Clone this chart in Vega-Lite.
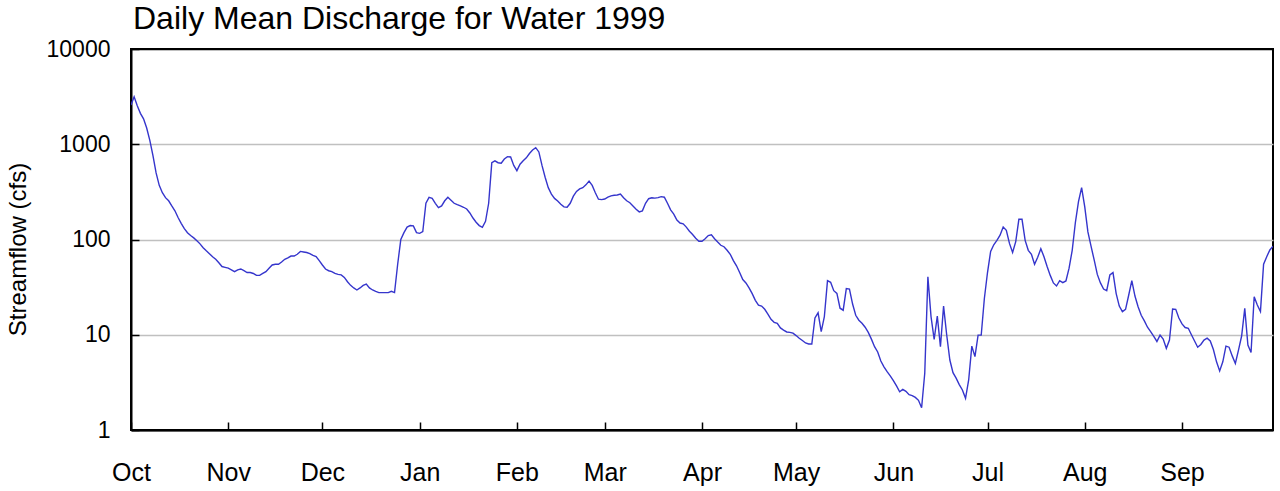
{
  "$schema": "https://vega.github.io/schema/vega-lite/v6.json",
  "width": 1142,
  "height": 381,
  "autosize": {"type": "none"},
  "padding": {"left": 131, "top": 49, "right": 7, "bottom": 61},
  "background": "white",
  "config": {
    "font": "Liberation Sans",
    "view": {"stroke": "black", "strokeWidth": 2}
  },
  "title": {
    "text": "Daily Mean Discharge for Water 1999",
    "anchor": "start",
    "frame": "group",
    "fontSize": 32,
    "fontWeight": "normal",
    "font": "Liberation Sans",
    "color": "black",
    "baseline": "alphabetic",
    "offset": 6,
    "dy": 29,
    "dx": 2
  },
  "data": {
    "values": [
      {"t": "1998-10-01", "q": 2580}, {"t": "1998-10-02", "q": 3150}, {"t": "1998-10-03", "q": 2540}, {"t": "1998-10-04", "q": 2110}, {"t": "1998-10-05", "q": 1850}, {"t": "1998-10-06", "q": 1480}, {"t": "1998-10-07", "q": 1100}, {"t": "1998-10-08", "q": 760}, {"t": "1998-10-09", "q": 500}, {"t": "1998-10-10", "q": 370}, {"t": "1998-10-11", "q": 310}, {"t": "1998-10-12", "q": 275}, {"t": "1998-10-13", "q": 255}, {"t": "1998-10-14", "q": 225}, {"t": "1998-10-15", "q": 200}, {"t": "1998-10-16", "q": 170}, {"t": "1998-10-17", "q": 148}, {"t": "1998-10-18", "q": 130}, {"t": "1998-10-19", "q": 118}, {"t": "1998-10-20", "q": 110}, {"t": "1998-10-21", "q": 104}, {"t": "1998-10-22", "q": 97}, {"t": "1998-10-23", "q": 90}, {"t": "1998-10-24", "q": 82}, {"t": "1998-10-25", "q": 76}, {"t": "1998-10-26", "q": 71}, {"t": "1998-10-27", "q": 66}, {"t": "1998-10-28", "q": 62}, {"t": "1998-10-29", "q": 57}, {"t": "1998-10-30", "q": 52}, {"t": "1998-10-31", "q": 51},
      {"t": "1998-11-01", "q": 50}, {"t": "1998-11-02", "q": 48}, {"t": "1998-11-03", "q": 46}, {"t": "1998-11-04", "q": 48}, {"t": "1998-11-05", "q": 49}, {"t": "1998-11-06", "q": 47}, {"t": "1998-11-07", "q": 45}, {"t": "1998-11-08", "q": 45}, {"t": "1998-11-09", "q": 44}, {"t": "1998-11-10", "q": 42}, {"t": "1998-11-11", "q": 42}, {"t": "1998-11-12", "q": 44}, {"t": "1998-11-13", "q": 46}, {"t": "1998-11-14", "q": 50}, {"t": "1998-11-15", "q": 54}, {"t": "1998-11-16", "q": 55}, {"t": "1998-11-17", "q": 55}, {"t": "1998-11-18", "q": 58}, {"t": "1998-11-19", "q": 62}, {"t": "1998-11-20", "q": 64}, {"t": "1998-11-21", "q": 67}, {"t": "1998-11-22", "q": 67}, {"t": "1998-11-23", "q": 70}, {"t": "1998-11-24", "q": 75}, {"t": "1998-11-25", "q": 74}, {"t": "1998-11-26", "q": 73}, {"t": "1998-11-27", "q": 71}, {"t": "1998-11-28", "q": 68}, {"t": "1998-11-29", "q": 66}, {"t": "1998-11-30", "q": 60},
      {"t": "1998-12-01", "q": 54}, {"t": "1998-12-02", "q": 49}, {"t": "1998-12-03", "q": 47}, {"t": "1998-12-04", "q": 46}, {"t": "1998-12-05", "q": 44}, {"t": "1998-12-06", "q": 43}, {"t": "1998-12-07", "q": 42.5}, {"t": "1998-12-08", "q": 40}, {"t": "1998-12-09", "q": 36}, {"t": "1998-12-10", "q": 33}, {"t": "1998-12-11", "q": 31}, {"t": "1998-12-12", "q": 29.5}, {"t": "1998-12-13", "q": 31}, {"t": "1998-12-14", "q": 33}, {"t": "1998-12-15", "q": 34}, {"t": "1998-12-16", "q": 31}, {"t": "1998-12-17", "q": 29.5}, {"t": "1998-12-18", "q": 28.5}, {"t": "1998-12-19", "q": 27.7}, {"t": "1998-12-20", "q": 27.7}, {"t": "1998-12-21", "q": 27.7}, {"t": "1998-12-22", "q": 27.7}, {"t": "1998-12-23", "q": 28.6}, {"t": "1998-12-24", "q": 27.7}, {"t": "1998-12-25", "q": 55}, {"t": "1998-12-26", "q": 100}, {"t": "1998-12-27", "q": 118}, {"t": "1998-12-28", "q": 135}, {"t": "1998-12-29", "q": 140}, {"t": "1998-12-30", "q": 139}, {"t": "1998-12-31", "q": 118},
      {"t": "1999-01-01", "q": 116}, {"t": "1999-01-02", "q": 121}, {"t": "1999-01-03", "q": 240}, {"t": "1999-01-04", "q": 277}, {"t": "1999-01-05", "q": 270}, {"t": "1999-01-06", "q": 240}, {"t": "1999-01-07", "q": 216}, {"t": "1999-01-08", "q": 225}, {"t": "1999-01-09", "q": 255}, {"t": "1999-01-10", "q": 277}, {"t": "1999-01-11", "q": 258}, {"t": "1999-01-12", "q": 240}, {"t": "1999-01-13", "q": 232}, {"t": "1999-01-14", "q": 225}, {"t": "1999-01-15", "q": 218}, {"t": "1999-01-16", "q": 209}, {"t": "1999-01-17", "q": 190}, {"t": "1999-01-18", "q": 168}, {"t": "1999-01-19", "q": 152}, {"t": "1999-01-20", "q": 140}, {"t": "1999-01-21", "q": 134}, {"t": "1999-01-22", "q": 155}, {"t": "1999-01-23", "q": 240}, {"t": "1999-01-24", "q": 640}, {"t": "1999-01-25", "q": 670}, {"t": "1999-01-26", "q": 640}, {"t": "1999-01-27", "q": 632}, {"t": "1999-01-28", "q": 700}, {"t": "1999-01-29", "q": 741}, {"t": "1999-01-30", "q": 735}, {"t": "1999-01-31", "q": 600},
      {"t": "1999-02-01", "q": 528}, {"t": "1999-02-02", "q": 617}, {"t": "1999-02-03", "q": 670}, {"t": "1999-02-04", "q": 720}, {"t": "1999-02-05", "q": 800}, {"t": "1999-02-06", "q": 870}, {"t": "1999-02-07", "q": 920}, {"t": "1999-02-08", "q": 830}, {"t": "1999-02-09", "q": 600}, {"t": "1999-02-10", "q": 450}, {"t": "1999-02-11", "q": 350}, {"t": "1999-02-12", "q": 300}, {"t": "1999-02-13", "q": 270}, {"t": "1999-02-14", "q": 254}, {"t": "1999-02-15", "q": 235}, {"t": "1999-02-16", "q": 220}, {"t": "1999-02-17", "q": 218}, {"t": "1999-02-18", "q": 240}, {"t": "1999-02-19", "q": 285}, {"t": "1999-02-20", "q": 320}, {"t": "1999-02-21", "q": 340}, {"t": "1999-02-22", "q": 350}, {"t": "1999-02-23", "q": 375}, {"t": "1999-02-24", "q": 411}, {"t": "1999-02-25", "q": 370}, {"t": "1999-02-26", "q": 310}, {"t": "1999-02-27", "q": 265}, {"t": "1999-02-28", "q": 262},
      {"t": "1999-03-01", "q": 266}, {"t": "1999-03-02", "q": 278}, {"t": "1999-03-03", "q": 287}, {"t": "1999-03-04", "q": 291}, {"t": "1999-03-05", "q": 293}, {"t": "1999-03-06", "q": 300}, {"t": "1999-03-07", "q": 275}, {"t": "1999-03-08", "q": 255}, {"t": "1999-03-09", "q": 243}, {"t": "1999-03-10", "q": 225}, {"t": "1999-03-11", "q": 208}, {"t": "1999-03-12", "q": 195}, {"t": "1999-03-13", "q": 200}, {"t": "1999-03-14", "q": 240}, {"t": "1999-03-15", "q": 268}, {"t": "1999-03-16", "q": 274}, {"t": "1999-03-17", "q": 272}, {"t": "1999-03-18", "q": 275}, {"t": "1999-03-19", "q": 282}, {"t": "1999-03-20", "q": 278}, {"t": "1999-03-21", "q": 240}, {"t": "1999-03-22", "q": 205}, {"t": "1999-03-23", "q": 185}, {"t": "1999-03-24", "q": 160}, {"t": "1999-03-25", "q": 149}, {"t": "1999-03-26", "q": 146}, {"t": "1999-03-27", "q": 135}, {"t": "1999-03-28", "q": 122}, {"t": "1999-03-29", "q": 113}, {"t": "1999-03-30", "q": 103}, {"t": "1999-03-31", "q": 96},
      {"t": "1999-04-01", "q": 96}, {"t": "1999-04-02", "q": 102}, {"t": "1999-04-03", "q": 110}, {"t": "1999-04-04", "q": 112}, {"t": "1999-04-05", "q": 102}, {"t": "1999-04-06", "q": 94}, {"t": "1999-04-07", "q": 87}, {"t": "1999-04-08", "q": 84}, {"t": "1999-04-09", "q": 77}, {"t": "1999-04-10", "q": 70}, {"t": "1999-04-11", "q": 60}, {"t": "1999-04-12", "q": 53}, {"t": "1999-04-13", "q": 45}, {"t": "1999-04-14", "q": 38}, {"t": "1999-04-15", "q": 35}, {"t": "1999-04-16", "q": 31}, {"t": "1999-04-17", "q": 27}, {"t": "1999-04-18", "q": 23}, {"t": "1999-04-19", "q": 20.5}, {"t": "1999-04-20", "q": 20}, {"t": "1999-04-21", "q": 18.5}, {"t": "1999-04-22", "q": 16.5}, {"t": "1999-04-23", "q": 14.5}, {"t": "1999-04-24", "q": 13.5}, {"t": "1999-04-25", "q": 13.2}, {"t": "1999-04-26", "q": 11.8}, {"t": "1999-04-27", "q": 11.2}, {"t": "1999-04-28", "q": 10.7}, {"t": "1999-04-29", "q": 10.6}, {"t": "1999-04-30", "q": 10.4},
      {"t": "1999-05-01", "q": 9.8}, {"t": "1999-05-02", "q": 9.2}, {"t": "1999-05-03", "q": 8.7}, {"t": "1999-05-04", "q": 8.2}, {"t": "1999-05-05", "q": 8.0}, {"t": "1999-05-06", "q": 8.0}, {"t": "1999-05-07", "q": 15}, {"t": "1999-05-08", "q": 17}, {"t": "1999-05-09", "q": 10.8}, {"t": "1999-05-10", "q": 15.5}, {"t": "1999-05-11", "q": 37}, {"t": "1999-05-12", "q": 35.5}, {"t": "1999-05-13", "q": 29}, {"t": "1999-05-14", "q": 27.2}, {"t": "1999-05-15", "q": 19}, {"t": "1999-05-16", "q": 18.1}, {"t": "1999-05-17", "q": 30.5}, {"t": "1999-05-18", "q": 30.2}, {"t": "1999-05-19", "q": 21}, {"t": "1999-05-20", "q": 16}, {"t": "1999-05-21", "q": 14.2}, {"t": "1999-05-22", "q": 13.2}, {"t": "1999-05-23", "q": 12}, {"t": "1999-05-24", "q": 10.6}, {"t": "1999-05-25", "q": 9}, {"t": "1999-05-26", "q": 7.5}, {"t": "1999-05-27", "q": 6.6}, {"t": "1999-05-28", "q": 5.3}, {"t": "1999-05-29", "q": 4.6}, {"t": "1999-05-30", "q": 4.1}, {"t": "1999-05-31", "q": 3.7},
      {"t": "1999-06-01", "q": 3.3}, {"t": "1999-06-02", "q": 2.9}, {"t": "1999-06-03", "q": 2.52}, {"t": "1999-06-04", "q": 2.67}, {"t": "1999-06-05", "q": 2.55}, {"t": "1999-06-06", "q": 2.35}, {"t": "1999-06-07", "q": 2.3}, {"t": "1999-06-08", "q": 2.2}, {"t": "1999-06-09", "q": 2.05}, {"t": "1999-06-10", "q": 1.71}, {"t": "1999-06-11", "q": 3.94}, {"t": "1999-06-12", "q": 40.7}, {"t": "1999-06-13", "q": 15.5}, {"t": "1999-06-14", "q": 8.96}, {"t": "1999-06-15", "q": 15.7}, {"t": "1999-06-16", "q": 7.5}, {"t": "1999-06-17", "q": 20}, {"t": "1999-06-18", "q": 9.94}, {"t": "1999-06-19", "q": 5.43}, {"t": "1999-06-20", "q": 4.0}, {"t": "1999-06-21", "q": 3.5}, {"t": "1999-06-22", "q": 3.0}, {"t": "1999-06-23", "q": 2.63}, {"t": "1999-06-24", "q": 2.15}, {"t": "1999-06-25", "q": 3.35}, {"t": "1999-06-26", "q": 7.6}, {"t": "1999-06-27", "q": 5.89}, {"t": "1999-06-28", "q": 9.9}, {"t": "1999-06-29", "q": 9.9}, {"t": "1999-06-30", "q": 24},
      {"t": "1999-07-01", "q": 45}, {"t": "1999-07-02", "q": 75}, {"t": "1999-07-03", "q": 88}, {"t": "1999-07-04", "q": 98}, {"t": "1999-07-05", "q": 111}, {"t": "1999-07-06", "q": 135}, {"t": "1999-07-07", "q": 125}, {"t": "1999-07-08", "q": 91}, {"t": "1999-07-09", "q": 73}, {"t": "1999-07-10", "q": 95}, {"t": "1999-07-11", "q": 163}, {"t": "1999-07-12", "q": 163}, {"t": "1999-07-13", "q": 98}, {"t": "1999-07-14", "q": 77}, {"t": "1999-07-15", "q": 70}, {"t": "1999-07-16", "q": 55}, {"t": "1999-07-17", "q": 65}, {"t": "1999-07-18", "q": 80}, {"t": "1999-07-19", "q": 66}, {"t": "1999-07-20", "q": 52}, {"t": "1999-07-21", "q": 42}, {"t": "1999-07-22", "q": 35}, {"t": "1999-07-23", "q": 32.5}, {"t": "1999-07-24", "q": 37}, {"t": "1999-07-25", "q": 35.2}, {"t": "1999-07-26", "q": 36.7}, {"t": "1999-07-27", "q": 50}, {"t": "1999-07-28", "q": 77}, {"t": "1999-07-29", "q": 150}, {"t": "1999-07-30", "q": 250}, {"t": "1999-07-31", "q": 350},
      {"t": "1999-08-01", "q": 220}, {"t": "1999-08-02", "q": 120}, {"t": "1999-08-03", "q": 85}, {"t": "1999-08-04", "q": 61}, {"t": "1999-08-05", "q": 43}, {"t": "1999-08-06", "q": 35}, {"t": "1999-08-07", "q": 30.2}, {"t": "1999-08-08", "q": 29}, {"t": "1999-08-09", "q": 42.4}, {"t": "1999-08-10", "q": 44.9}, {"t": "1999-08-11", "q": 27.2}, {"t": "1999-08-12", "q": 20}, {"t": "1999-08-13", "q": 17.5}, {"t": "1999-08-14", "q": 18.5}, {"t": "1999-08-15", "q": 26}, {"t": "1999-08-16", "q": 37}, {"t": "1999-08-17", "q": 25.5}, {"t": "1999-08-18", "q": 19.7}, {"t": "1999-08-19", "q": 16}, {"t": "1999-08-20", "q": 14}, {"t": "1999-08-21", "q": 12}, {"t": "1999-08-22", "q": 10.8}, {"t": "1999-08-23", "q": 9.6}, {"t": "1999-08-24", "q": 8.5}, {"t": "1999-08-25", "q": 9.9}, {"t": "1999-08-26", "q": 9.0}, {"t": "1999-08-27", "q": 7.2}, {"t": "1999-08-28", "q": 8.8}, {"t": "1999-08-29", "q": 18.6}, {"t": "1999-08-30", "q": 18.5}, {"t": "1999-08-31", "q": 15},
      {"t": "1999-09-01", "q": 13}, {"t": "1999-09-02", "q": 11.9}, {"t": "1999-09-03", "q": 11.7}, {"t": "1999-09-04", "q": 10}, {"t": "1999-09-05", "q": 8.6}, {"t": "1999-09-06", "q": 7.4}, {"t": "1999-09-07", "q": 7.9}, {"t": "1999-09-08", "q": 8.8}, {"t": "1999-09-09", "q": 9.2}, {"t": "1999-09-10", "q": 8.6}, {"t": "1999-09-11", "q": 7.0}, {"t": "1999-09-12", "q": 5.2}, {"t": "1999-09-13", "q": 4.17}, {"t": "1999-09-14", "q": 5.2}, {"t": "1999-09-15", "q": 7.6}, {"t": "1999-09-16", "q": 7.4}, {"t": "1999-09-17", "q": 6.0}, {"t": "1999-09-18", "q": 5.0}, {"t": "1999-09-19", "q": 6.9}, {"t": "1999-09-20", "q": 9.7}, {"t": "1999-09-21", "q": 18.9}, {"t": "1999-09-22", "q": 7.8}, {"t": "1999-09-23", "q": 6.5}, {"t": "1999-09-24", "q": 25.1}, {"t": "1999-09-25", "q": 20.5}, {"t": "1999-09-26", "q": 17.5}, {"t": "1999-09-27", "q": 55}, {"t": "1999-09-28", "q": 66}, {"t": "1999-09-29", "q": 77.6}, {"t": "1999-09-30", "q": 85}
    ]
  },
  "mark": {"type": "line", "color": "#3535cc", "strokeWidth": 1.4, "clip": true},
  "encoding": {
    "x": {
      "field": "t",
      "type": "temporal",
      "scale": {
        "type": "utc",
        "domain": [
          {"year": 1998, "month": 10, "date": 1, "utc": true},
          {"year": 1999, "month": 9, "date": 30, "utc": true}
        ]
      },
      "axis": {
        "title": null,
        "format": "%b",
        "values": [
          {"year": 1998, "month": 10, "date": 1, "utc": true},
          {"year": 1998, "month": 11, "date": 1, "utc": true},
          {"year": 1998, "month": 12, "date": 1, "utc": true},
          {"year": 1999, "month": 1, "date": 1, "utc": true},
          {"year": 1999, "month": 2, "date": 1, "utc": true},
          {"year": 1999, "month": 3, "date": 1, "utc": true},
          {"year": 1999, "month": 4, "date": 1, "utc": true},
          {"year": 1999, "month": 5, "date": 1, "utc": true},
          {"year": 1999, "month": 6, "date": 1, "utc": true},
          {"year": 1999, "month": 7, "date": 1, "utc": true},
          {"year": 1999, "month": 8, "date": 1, "utc": true},
          {"year": 1999, "month": 9, "date": 1, "utc": true}
        ],
        "labelFontSize": 25,
        "labelColor": "black",
        "labelFont": "Liberation Sans",
        "labelPadding": 38,
        "labelAlign": "center",
        "labelFlush": false,
        "labelOverlap": false,
        "tickSize": -8,
        "tickColor": "black",
        "tickWidth": 1.5,
        "domainColor": "black",
        "domainWidth": 2,
        "grid": false
      }
    },
    "y": {
      "field": "q",
      "type": "quantitative",
      "scale": {"type": "log", "domain": [1, 10000], "nice": false},
      "axis": {
        "title": "Streamflow (cfs)",
        "titleFontSize": 24,
        "titleFontWeight": "normal",
        "titleFont": "Liberation Sans",
        "titleColor": "black",
        "titleX": -113,
        "titleY": 200,
        "titleBaseline": "middle",
        "titleAlign": "center",
        "titleAngle": -90,
        "values": [1, 10, 100, 1000, 10000],
        "format": "d",
        "labelFontSize": 23,
        "labelColor": "black",
        "labelFont": "Liberation Sans",
        "labelPadding": 29,
        "labelOverlap": false,
        "labelFlush": false,
        "tickSize": -8,
        "tickColor": "black",
        "tickWidth": 1.5,
        "domainColor": "black",
        "domainWidth": 2,
        "grid": true,
        "gridColor": {"condition": {"test": "datum.value <= 1 || datum.value >= 10000", "value": "black"}, "value": "#c0c0c0"},
        "gridWidth": 1.5
      }
    }
  }
}
